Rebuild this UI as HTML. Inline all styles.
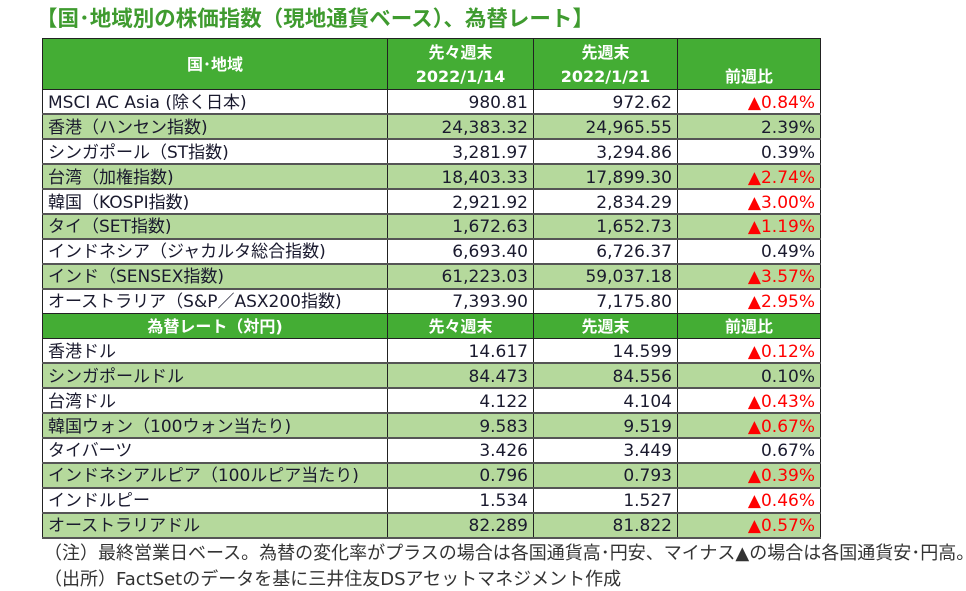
<!DOCTYPE html>
<html><head><meta charset="utf-8"><style>
body{margin:0;width:966px;height:591px;background:#fff;font-family:"DejaVu Sans","Noto Sans CJK JP",sans-serif;color:#1a1a2e;position:relative;overflow:hidden}
.t{position:absolute;left:36px;top:2px;font-size:21.5px;font-weight:bold;color:#3f9b2f;white-space:nowrap;font-family:"Liberation Sans","Noto Sans CJK JP",sans-serif}
table{position:absolute;left:42px;top:38px;border-collapse:collapse;table-layout:fixed;font-size:17px}
td{border:1px solid #222;padding:2px 5px 0 5px;height:24.9px;line-height:20px;white-space:nowrap;overflow:hidden;box-sizing:border-box}
td.n{text-align:right}
tr.g td{background:#b5d99c;border-top:2px solid #555;border-bottom:2px solid #555}
tr.h td{background:#44ad34;color:#fff;font-weight:bold;text-align:center;font-size:16px}
.r{color:#f00}
.note{position:absolute;left:44px;font-size:18px;color:#333;white-space:nowrap}
</style></head><body>
<div class="t">【国･地域別の株価指数（現地通貨ベース）、為替レート】</div>
<table>
<colgroup><col style="width:345px"><col style="width:146px"><col style="width:144px"><col style="width:143px"></colgroup>
<tr class="h"><td style="height:51px;line-height:24px">国･地域</td><td style="line-height:24px;height:51px">先々週末<br>2022/1/14</td><td style="line-height:24px;height:51px">先週末<br>2022/1/21</td><td style="vertical-align:bottom;padding-bottom:2px;height:51px">前週比</td></tr>
<tr><td>MSCI AC Asia (除く日本)</td><td class="n">980.81</td><td class="n">972.62</td><td class="n r">▲0.84%</td></tr>
<tr class="g"><td>香港（ハンセン指数)</td><td class="n">24,383.32</td><td class="n">24,965.55</td><td class="n">2.39%</td></tr>
<tr><td>シンガポール（ST指数)</td><td class="n">3,281.97</td><td class="n">3,294.86</td><td class="n">0.39%</td></tr>
<tr class="g"><td>台湾（加権指数)</td><td class="n">18,403.33</td><td class="n">17,899.30</td><td class="n r">▲2.74%</td></tr>
<tr><td>韓国（KOSPI指数)</td><td class="n">2,921.92</td><td class="n">2,834.29</td><td class="n r">▲3.00%</td></tr>
<tr class="g"><td>タイ（SET指数)</td><td class="n">1,672.63</td><td class="n">1,652.73</td><td class="n r">▲1.19%</td></tr>
<tr><td>インドネシア（ジャカルタ総合指数)</td><td class="n">6,693.40</td><td class="n">6,726.37</td><td class="n">0.49%</td></tr>
<tr class="g"><td>インド（SENSEX指数)</td><td class="n">61,223.03</td><td class="n">59,037.18</td><td class="n r">▲3.57%</td></tr>
<tr><td>オーストラリア（S&amp;P／ASX200指数)</td><td class="n">7,393.90</td><td class="n">7,175.80</td><td class="n r">▲2.95%</td></tr>
<tr class="h"><td>為替レート（対円)</td><td>先々週末</td><td>先週末</td><td>前週比</td></tr>
<tr><td>香港ドル</td><td class="n">14.617</td><td class="n">14.599</td><td class="n r">▲0.12%</td></tr>
<tr class="g"><td>シンガポールドル</td><td class="n">84.473</td><td class="n">84.556</td><td class="n">0.10%</td></tr>
<tr><td>台湾ドル</td><td class="n">4.122</td><td class="n">4.104</td><td class="n r">▲0.43%</td></tr>
<tr class="g"><td>韓国ウォン（100ウォン当たり)</td><td class="n">9.583</td><td class="n">9.519</td><td class="n r">▲0.67%</td></tr>
<tr><td>タイバーツ</td><td class="n">3.426</td><td class="n">3.449</td><td class="n">0.67%</td></tr>
<tr class="g"><td>インドネシアルピア（100ルピア当たり)</td><td class="n">0.796</td><td class="n">0.793</td><td class="n r">▲0.39%</td></tr>
<tr><td>インドルピー</td><td class="n">1.534</td><td class="n">1.527</td><td class="n r">▲0.46%</td></tr>
<tr class="g"><td>オーストラリアドル</td><td class="n">82.289</td><td class="n">81.822</td><td class="n r">▲0.57%</td></tr>
</table>
<div class="note" style="top:539px">（注）最終営業日ベース。為替の変化率がプラスの場合は各国通貨高･円安、マイナス▲の場合は各国通貨安･円高。</div>
<div class="note" style="top:565px">（出所）FactSetのデータを基に三井住友DSアセットマネジメント作成</div>
</body></html>
